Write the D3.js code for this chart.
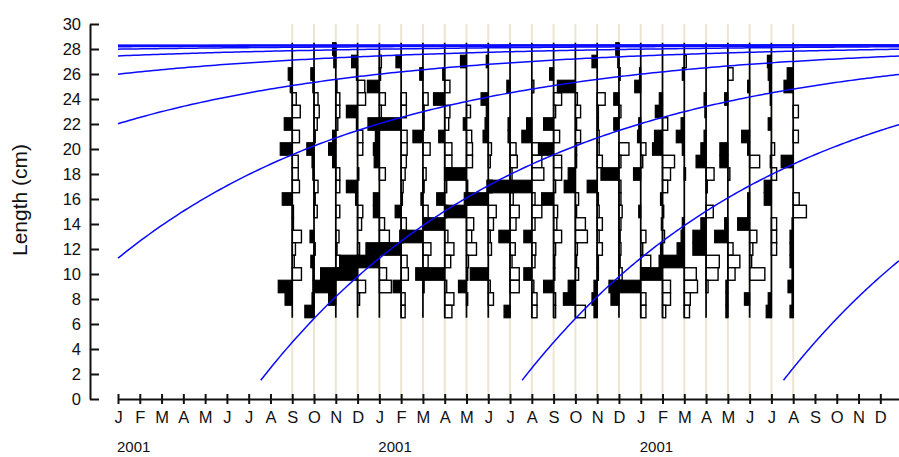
<!DOCTYPE html>
<html><head><meta charset="utf-8">
<script src="https://cdn.jsdelivr.net/npm/d3@7"></script>
<style>html,body{margin:0;padding:0;background:#fff;} svg{display:block;}</style>
</head><body>
<svg id="chart" width="899" height="457"></svg>
<script>
// ---- data ----
const monthLabels = ["J","F","M","A","M","J","J","A","S","O","N","D"];
const yearLabels = ["2001","2001","2001"];
const yTicks = [0,2,4,6,8,10,12,14,16,18,20,22,24,26,28,30];
const lengthClasses = [28,27,26,25,24,23,22,21,20,19,18,17,16,15,14,13,12,11,10,9,8,7];
// month index (0 = Jan of first year) of each sample
const sampleMonths = [8,9,10,11,12,13,14,15,16,17,18,19,20,21,22,23,24,25,26,27,28,29,30,31];
// restructured scores per sample, one value per length class (28 -> 7); + = black peak, - = white trough
const scores = [
 [0,0,.1,.05,-.1,-.2,.2,-.18,.3,-.15,-.15,-.18,.25,-.03,-.03,-.23,-.08,-.05,-.23,.35,.18,0],
 [0,0,.08,.03,-.1,-.13,-.08,-.03,.18,.05,.03,-.1,-.03,-.08,0,.1,-.03,.08,.03,.03,.05,.23],
 [.08,.05,0,-.03,-.1,-.1,-.05,.08,.18,.08,-.1,-.1,0,-.1,0,-.08,-.03,-.1,.38,.55,.18,0],
 [0,.15,.03,-.18,-.2,.28,.03,-.13,-.13,0,-.03,.28,.05,-.13,-.1,0,-.05,.45,.53,-.2,-.05,0],
 [0,-.05,-.03,.3,-.15,-.05,0,.1,.15,.13,-.15,0,.15,.15,-.13,-.25,0,.55,-.18,-.3,0,0],
 [0,.13,0,0,-.13,-.13,.83,-.15,-.15,-.13,-.1,-.05,-.03,.15,-.13,-.05,.88,-.15,-.18,.2,-.1,-.1],
 [0,0,.08,0,-.13,-.03,-.03,.25,-.18,0,-.08,-.03,.05,-.13,0,.58,-.2,-.13,.18,-.03,0,0],
 [0,0,.05,-.13,.28,-.13,-.1,.15,-.18,-.18,0,-.05,.2,-.05,.53,-.08,-.23,-.15,.53,-.05,-.23,-.18],
 [0,.15,0,0,0,-.1,.08,-.13,-.15,-.15,.55,-.03,-.05,.55,-.18,-.13,-.25,-.05,-.03,.2,-.03,0],
 [0,.05,0,0,.18,.05,.08,.13,-.08,-.05,0,-.1,.6,-.2,-.13,-.05,-.08,0,.45,-.05,-.13,0],
 [0,0,0,.08,0,0,.05,.05,-.15,-.18,-.05,.58,-.08,-.23,-.15,.28,-.13,-.05,-.23,-.23,0,.15],
 [0,0,0,-.05,0,0,.13,.25,-.2,-.25,-.3,.55,-.08,-.25,-.08,.2,-.1,-.08,.2,-.05,-.13,-.13],
 [0,0,.1,0,-.2,-.05,.25,-.15,.38,-.2,-.2,-.05,.3,-.1,-.08,-.2,-.05,-.03,-.03,.25,-.05,-.05],
 [0,0,0,.45,-.05,-.13,-.03,-.13,-.03,-.03,.18,.28,-.08,-.03,-.25,-.3,-.05,-.03,-.08,.18,.3,-.25],
 [0,.13,0,0,-.2,-.03,-.03,-.05,-.05,-.13,0,.25,-.03,-.05,-.13,-.05,-.13,-.03,-.03,.08,.13,.08],
 [.08,.03,-.03,0,.13,-.05,.13,0,-.25,-.05,.45,-.05,-.05,-.08,-.05,-.03,-.05,-.03,-.08,.25,.2,0],
 [0,0,.03,.15,0,0,.05,.08,-.13,-.05,.18,0,0,.05,0,-.13,-.05,-.25,0,.55,-.13,-.13],
 [0,0,0,0,.08,.18,-.13,.2,.25,-.3,-.2,-.13,.05,-.03,.03,-.05,.05,.05,.55,-.2,-.2,-.08],
 [0,-.05,.05,0,0,0,.08,.2,.05,0,-.03,0,0,0,.05,.08,.18,.63,-.3,-.33,-.15,-.13],
 [0,0,0,0,.05,.03,0,.05,.13,.25,-.2,-.03,0,-.18,.13,.33,.33,-.33,-.3,-.05,0,0],
 [0,0,-.13,0,.08,0,0,0,.2,.2,-.05,0,0,0,.08,.33,-.13,-.3,-.18,.05,.05,.05],
 [0,0,0,.05,0,0,0,.2,.05,-.25,0,0,.05,.05,.3,-.18,-.08,-.05,-.38,0,.13,0],
 [0,.1,.08,.05,.03,0,.08,0,-.08,.03,-.13,.18,.18,0,-.13,-.13,-.13,0,0,0,.08,.13],
 [0,0,.15,.23,0,-.13,0,-.13,0,.3,0,0,-.15,-.33,.03,.08,.08,.08,.03,.13,.03,.08]
];
// growth curve (von Bertalanffy) parameters and yearly cohort birth months
const Linf = 28.3, Kmonth = 0.0832, startLength = 1.5;
const cohortBirthMonths = [-102.1,-90.1,-78.1,-66.1,-54.1,-42.1,-30.1,-18.1,-6.1,5.9,17.9,29.9];

// ---- drawing ----
const svg = d3.select("#chart");
const x = d3.scaleLinear().domain([0, 36]).range([118, 902.1]);
const y = d3.scaleLinear().domain([0, 30]).range([399, 24]);
const w = d3.scaleLinear().domain([0, 1]).range([0, 40]);
const font = "'Liberation Sans', Arial, sans-serif";

// faint sample-date lines
svg.append("g").selectAll("line").data(sampleMonths).join("line")
  .attr("x1", d => x(d)).attr("x2", d => x(d))
  .attr("y1", y(30)).attr("y2", y(0))
  .attr("stroke", "#ede5d2").attr("stroke-width", 2);

// histograms
const halfBin = 0.5;
sampleMonths.forEach((m, i) => {
  const g = svg.append("g");
  const x0 = x(m);
  const rows = lengthClasses.map((L, j) => ({L, s: scores[i][j]}));
  g.selectAll("rect.neg").data(rows.filter(r => r.s < 0)).join("rect")
    .attr("x", x0).attr("width", r => w(-r.s))
    .attr("y", r => y(r.L + halfBin)).attr("height", r => y(r.L - halfBin) - y(r.L + halfBin))
    .attr("fill", "#fff").attr("stroke", "#000").attr("stroke-width", 1.4);
  g.selectAll("rect.pos").data(rows.filter(r => r.s > 0)).join("rect")
    .attr("x", r => x0 - w(r.s)).attr("width", r => w(r.s))
    .attr("y", r => y(r.L + halfBin)).attr("height", r => y(r.L - halfBin) - y(r.L + halfBin))
    .attr("fill", "#000").attr("stroke", "#000").attr("stroke-width", 1.2);
  const Lmax = d3.max(lengthClasses) + halfBin, Lmin = d3.min(lengthClasses) - halfBin;
  g.append("line").attr("x1", x0).attr("x2", x0)
    .attr("y1", y(Lmax)).attr("y2", y(Lmin))
    .attr("stroke", "#000").attr("stroke-width", 1.7);
});

// growth curves
const mEnd = x.invert(899);
const dtStart = -Math.log(1 - startLength / Linf) / Kmonth;
const vb = (m, b) => Linf * (1 - Math.exp(-Kmonth * (m - b)));
const line = d3.line().x(d => x(d[0])).y(d => y(d[1]));
cohortBirthMonths.forEach(b => {
  const m0 = Math.max(0, b + dtStart);
  if (m0 >= mEnd) return;
  const pts = [];
  const n = 200;
  for (let k = 0; k <= n; k++) { const m = m0 + (mEnd - m0) * k / n; pts.push([m, vb(m, b)]); }
  svg.append("path").attr("d", line(pts)).attr("fill", "none")
    .attr("stroke", "#0a0aff").attr("stroke-width", 1.5);
});

// y axis
const yAxis = svg.append("g").attr("transform", "translate(90,0)")
  .call(d3.axisLeft(y).tickValues(yTicks).tickSizeInner(-9).tickSizeOuter(0).tickPadding(9));
yAxis.select(".domain").attr("stroke", "#111").attr("stroke-width", 2);
yAxis.selectAll(".tick line").attr("stroke", "#111").attr("stroke-width", 2);
yAxis.selectAll("text").attr("font-family", font).attr("font-size", 16.5).attr("fill", "#111");

// x axis
const months = d3.range(0, 36);
const xAxis = svg.append("g").attr("transform", "translate(0,399)")
  .call(d3.axisBottom(x).tickValues(months).tickSizeInner(5).tickSizeOuter(0)
    .tickFormat(i => monthLabels[i % 12]));
xAxis.select(".domain").attr("stroke", "#111").attr("stroke-width", 2);
xAxis.selectAll(".tick line").attr("y1", -5).attr("stroke", "#111").attr("stroke-width", 2);
xAxis.selectAll(".tick text").attr("y", 24).attr("dy", null)
  .attr("font-family", font).attr("font-size", 16.5).attr("fill", "#111");

// year labels
svg.append("g").selectAll("text").data(yearLabels).join("text")
  .attr("x", (d, i) => x(i * 12) - 1).attr("y", 452)
  .attr("font-family", font).attr("font-size", 15).attr("fill", "#111")
  .text(d => d);

// y title
svg.append("text").attr("transform", "translate(27,200) rotate(-90)")
  .attr("text-anchor", "middle").attr("font-family", font).attr("font-size", 21)
  .attr("fill", "#111").text("Length (cm)");
</script>
</body></html>
